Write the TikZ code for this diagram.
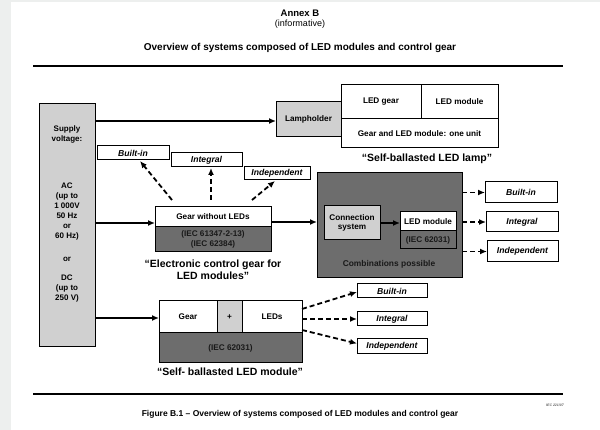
\documentclass[tikz,border=0pt]{standalone}
\usepackage{fontspec}
\setmainfont{Liberation Sans}
\usetikzlibrary{arrows.meta,calc}
\definecolor{pagegray}{HTML}{EDEFEE}
\definecolor{lightg}{HTML}{D0D0D0}
\definecolor{darkg}{HTML}{6D6D6D}
\begin{document}
\begin{tikzpicture}[x=1pt,y=-1pt,
  every node/.style={inner sep=0pt,outer sep=0pt},
  box/.style={draw,line width=1pt,align=center,font=\bfseries\fontsize{8.2}{9.5}\selectfont},
  lbox/.style={box,fill=lightg},
  dbox/.style={box,fill=darkg,text=black!90},
  tag/.style={draw,line width=1pt,fill=white,font=\bfseries\itshape\fontsize{8.6}{9}\selectfont},
  txt/.style={font=\bfseries\fontsize{8}{10}\selectfont,align=center},
  lab/.style={font=\bfseries\fontsize{10.5}{12}\selectfont,align=center},
  iecf/.style={font=\bfseries\fontsize{8.2}{9.5}\selectfont},
  arr/.style={line width=1.4pt,-{Latex[length=7pt,width=6pt]}},
  darr/.style={line width=1.8pt,dash pattern=on 5pt off 3pt,-{Latex[length=7pt,width=6pt]}},
  rule/.style={line width=2.4pt}]
\useasboundingbox (0,0) rectangle (600,430);
\fill[pagegray] (0,0) rectangle (11,430);
\fill[pagegray] (0,0) rectangle (600,2);

% titles
\node[font=\bfseries\fontsize{9.5}{10}\selectfont] (annex) at (300,13) {Annex B};
\node[font=\fontsize{9}{10}\selectfont] (inf) at (300,24) {(informative)};
\node[font=\bfseries\fontsize{10}{11}\selectfont] (title) at (300,48) {Overview of systems composed of LED modules and control gear};
\coordinate (r1a) at (33,66); \coordinate (r1b) at (563,66);
\draw[rule] (r1a) -- (r1b);
\coordinate (r2a) at (33,394); \coordinate (r2b) at (563,394);
\draw[rule] (r2a) -- (r2b);
\node[font=\bfseries\itshape\fontsize{3.5}{4}\selectfont,text=black!60] (iec) at (555,405) {IEC 221/07};
\node[font=\bfseries\fontsize{8.5}{9}\selectfont] (cap) at (300,414) {Figure B.1 -- Overview of systems composed of LED modules and control gear};

% supply
\node[lbox,minimum width=56pt,minimum height=243pt] (supply) at (67,225.5) {};
\node[txt] (sv) at (67,134) {Supply\\voltage:};
\node[txt] (ac) at (67,211.5) {AC\\(up to\\1 000V\\50 Hz\\or\\60 Hz)};
\node[txt] (or) at (67,259) {or};
\node[txt] (dc) at (67,289) {DC\\(up to\\250 V)};

% lamp
\node[lbox,minimum width=65pt,minimum height=35pt] (lamp) at (308.5,119.5) {Lampholder};
\node[box,minimum width=80pt,minimum height=34pt] (ledgear) at (381,102) {LED gear};
\node[box,minimum width=77pt,minimum height=34pt] (ledmod) at (459.5,102) {LED module};
\node[box,minimum width=157pt,minimum height=29pt] (unit) at (419.5,133.5) {Gear and LED module: one unit};
\node[lab] (lamplab) at (427,159) {“Self-ballasted LED lamp”};

% gear without LEDs
\node[box,fill=white,minimum width=116pt,minimum height=20pt] (gtop) at (213,217) {Gear without LEDs};
\node[dbox,iecf,minimum width=116pt,minimum height=25pt,align=center] (gbot) at (213,239.5) {(IEC 61347-2-13)\\(IEC 62384)};
\node[lab] (glab) at (213,270) {“Electronic control gear for\\LED modules”};

\node[tag,minimum width=72pt,minimum height=14pt] (bi1) at (133,153) {Built-in};
\node[tag,minimum width=71pt,minimum height=14pt] (in1) at (206.5,160) {Integral};
\node[tag,minimum width=66pt,minimum height=13pt] (id1) at (277,173.5) {Independent};
\draw[darr] ([xshift=-41pt,yshift=7pt]gtop.north) -- ([xshift=7pt,yshift=-1pt]bi1.south);
\draw[darr] ([xshift=-2pt,yshift=7pt]gtop.north) -- ([xshift=4.5pt,yshift=-1pt]in1.south);
\draw[darr] ([xshift=39pt,yshift=7pt]gtop.north) -- ([xshift=-2pt,yshift=-1pt]id1.south);

% combinations
\node[dbox,minimum width=145pt,minimum height=105pt] (comb) at (389.5,225.5) {};
\node[lbox,minimum width=56pt,minimum height=34pt] (conn) at (352,223) {Connection\\system};
\node[box,fill=white,minimum width=56pt,minimum height=19pt] (lm) at (428,221.5) {LED module};
\node[dbox,iecf,minimum width=56pt,minimum height=18pt] (lmb) at (428,240) {(IEC 62031)};
\node[font=\bfseries\fontsize{8.4}{9}\selectfont,text=black!90] (comblab) at (389,264) {Combinations possible};
\draw[arr] (conn.east) -- (conn.east -| lm.west);

\node[tag,minimum width=72pt,minimum height=21pt] (rb1) at (521,192.5) {Built-in};
\node[tag,minimum width=72pt,minimum height=20pt] (rb2) at (522,222) {Integral};
\node[tag,minimum width=71pt,minimum height=21pt] (rb3) at (522.5,251.5) {Independent};
\draw[darr] (rb1.west -| comb.east) -- (rb1.west);
\draw[darr] (rb2.west -| comb.east) -- (rb2.west);
\draw[darr] (rb3.west -| comb.east) -- (rb3.west);

\draw[arr] ([yshift=-5pt]gtop.east) -- ([yshift=-5pt]gtop.east -| comb.west);

% self-ballasted module
\node[box,minimum width=58pt,minimum height=32pt] (mgear) at (188,317) {Gear};
\node[lbox,minimum width=25pt,minimum height=32pt] (mplus) at (229.5,317) {+};
\node[box,minimum width=60pt,minimum height=32pt] (mleds) at (272,317) {LEDs};
\node[dbox,iecf,minimum width=143pt,minimum height=30pt] (mbot) at (230.5,348) {(IEC 62031)};
\node[lab] (mlab) at (230,372) {“Self- ballasted LED module”};

\node[tag,minimum width=70pt,minimum height=14pt] (lb1) at (392,291) {Built-in};
\node[tag,minimum width=70pt,minimum height=14pt] (lb2) at (392,319) {Integral};
\node[tag,minimum width=70pt,minimum height=15pt] (lb3) at (392,346.5) {Independent};
\draw[darr] ([yshift=8pt]mleds.east) -- ([yshift=-1pt]lb1.west);
\draw[darr] ([yshift=-2pt]mleds.east) -- (lb2.west);
\draw[darr] ([yshift=-13pt]mleds.east) -- ([yshift=3pt]lb3.west);

% supply arrows
\draw[arr] ([yshift=-17pt]supply.north east) -- ([yshift=-17pt]supply.north east -| lamp.west);
\draw[arr] ([yshift=2.5pt]supply.east) -- ([yshift=2.5pt]supply.east -| gtop.west);
\draw[arr] ([yshift=-92.5pt]supply.east) -- ([yshift=-92.5pt]supply.east -| mgear.west);
\end{tikzpicture}
\end{document}
